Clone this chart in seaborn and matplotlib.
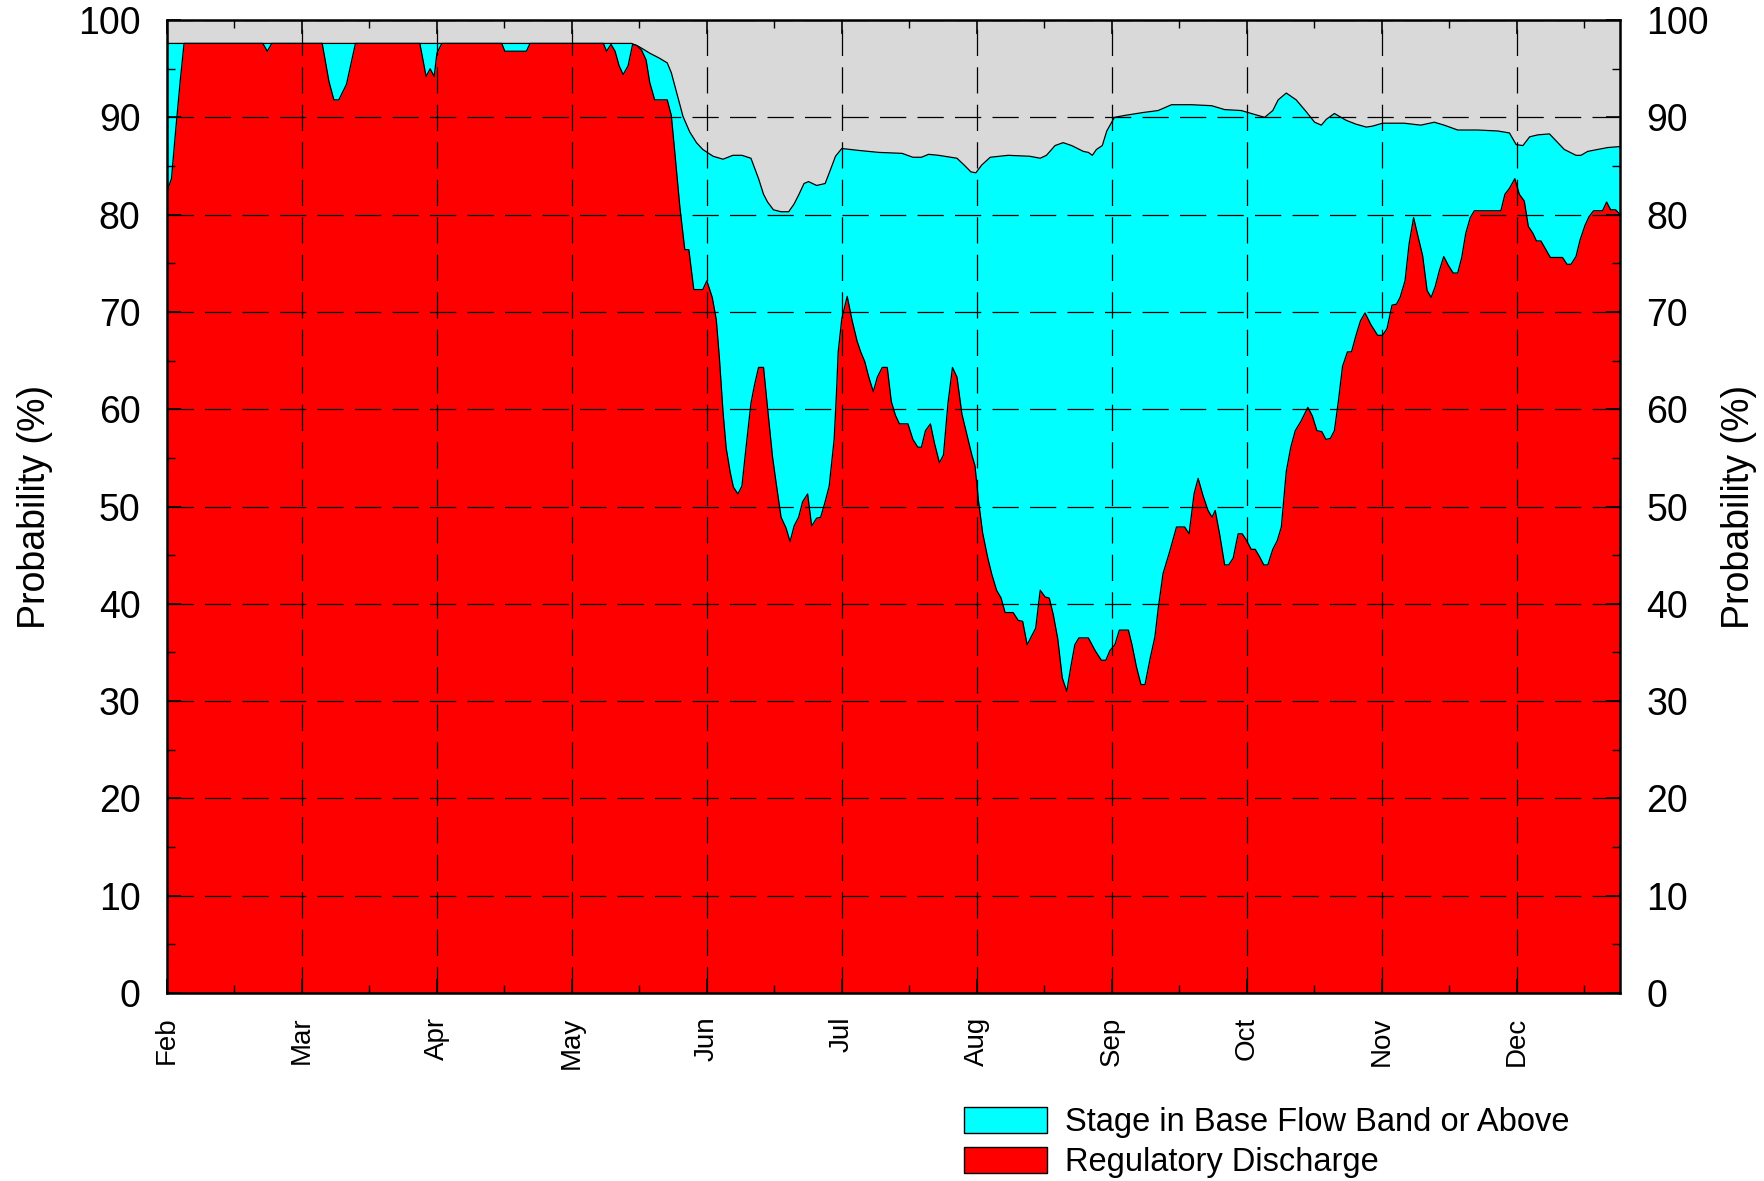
import pandas as pd
import matplotlib
matplotlib.use("Agg")
import matplotlib.pyplot as plt
import matplotlib.patches as mpatches
from matplotlib.ticker import MultipleLocator
import seaborn as sns

# x axis: each month is drawn with the same width (30 "days"), day 0 = start of Feb
months = ["Feb", "Mar", "Apr", "May", "Jun", "Jul", "Aug", "Sep", "Oct", "Nov", "Dec"]
legend_labels = ["Stage in Base Flow Band or Above", "Regulatory Discharge"]

stage_day = [
    0, 103.3, 104.8, 105.9, 107.3, 109.4, 111.2, 112.1, 113.2, 114.7, 116.2, 117.7,
    119.1, 121.4, 123.6, 125.8, 127.8, 129.8, 131.5, 132.6, 133.5, 134.8, 136.5,
    138.2, 139.4, 140.5, 141.6, 142.6, 144.4, 146.3, 147.3, 148.6, 150.0, 153.8,
    158.2, 163.4, 165.8, 167.7, 169.3, 171.5, 175.6, 177.2, 178.7, 179.8, 181.1,
    183.0, 187.0, 191.8, 194.1, 195.5, 197.4, 199.2, 201.1, 203.7, 204.8, 205.7,
    206.6, 207.9, 208.9, 210.6, 212.9, 217.0, 220.3, 223.3, 227.7, 232.2, 235.1,
    238.8, 244.0, 245.8, 247.0, 248.8, 251.0, 253.2, 255.1, 256.6, 257.7, 259.5,
    262.1, 264.3, 266.6, 268.0, 270.2, 275.0, 278.7, 281.7, 283.9, 286.9, 291.3,
    295.8, 298.4, 299.9, 301.4, 302.9, 304.7, 307.3, 310.6, 313.2, 314.3, 315.8,
    318.0, 320.3, 323.0,
]
stage_pct = [
    97.6, 97.6, 97.3, 97.0, 96.6, 96.1, 95.6, 94.6, 92.7, 90.1, 88.5, 87.4,
    86.7, 86.0, 85.7, 86.1, 86.1, 85.8, 83.7, 82.1, 81.3, 80.5, 80.3,
    80.3, 81.1, 82.1, 83.2, 83.4, 83.0, 83.2, 84.4, 86.0, 86.8, 86.6,
    86.4, 86.3, 85.9, 85.9, 86.2, 86.1, 85.8, 85.1, 84.4, 84.3, 85.1,
    85.9, 86.1, 86.0, 85.8, 86.1, 87.1, 87.4, 87.1, 86.5, 86.4, 86.1,
    86.7, 87.1, 88.6, 90.0, 90.2, 90.5, 90.7, 91.3, 91.3, 91.2, 90.8,
    90.7, 90.0, 90.7, 91.8, 92.5, 91.8, 90.6, 89.5, 89.2, 89.8, 90.4,
    89.7, 89.3, 89.0, 89.1, 89.4, 89.4, 89.2, 89.5, 89.2, 88.7, 88.7,
    88.6, 88.4, 87.2, 87.1, 88.0, 88.2, 88.3, 86.7, 86.1, 86.1, 86.5,
    86.7, 86.9, 87.0,
]

discharge_day = [
    0, 1.0, 2.0, 3.0, 3.8, 21.3, 22.3, 23.3, 34.5, 36.0, 37.1, 38.2, 39.9, 41.9,
    56.2, 57.6, 58.5, 59.4, 60.0, 61.1, 74.4, 75.1, 79.9, 80.7, 97.0, 97.7, 98.7,
    99.6, 100.5, 101.4, 102.5, 103.5, 104.4, 105.5, 106.5, 107.3, 108.4, 111.2,
    112.1, 112.9, 114.0, 115.1, 116.0, 117.1, 119.1, 120.0, 121.2, 122.1, 122.8,
    123.6, 124.3, 125.2, 125.9, 126.9, 127.8, 128.7, 129.8, 130.6, 131.5, 132.6,
    133.5, 134.6, 135.5, 136.5, 137.6, 138.5, 139.4, 140.4, 141.3, 142.4, 143.3,
    144.4, 145.3, 146.3, 147.2, 148.3, 148.8, 149.2, 150.0, 151.2, 152.3, 153.4,
    154.2, 155.1, 156.0, 157.0, 157.9, 159.0, 160.1, 161.0, 161.9, 162.8, 164.7,
    165.8, 166.9, 167.7, 168.6, 169.7, 170.6, 171.7, 172.6, 173.6, 174.6, 175.6,
    176.7, 177.8, 178.9, 179.6, 180.4, 181.3, 182.4, 183.3, 184.4, 185.4, 186.3,
    188.1, 189.2, 190.2, 191.2, 193.1, 194.1, 195.2, 196.1, 197.0, 198.0, 199.0,
    200.0, 200.9, 201.8, 202.7, 204.8, 206.3, 207.7, 208.7, 209.6, 210.7, 211.7,
    213.7, 214.5, 215.5, 216.5, 217.4, 218.5, 219.6, 220.3, 221.4, 222.9, 224.4,
    226.2, 227.2, 228.3, 229.2, 230.3, 231.4, 232.3, 233.0, 234.0, 235.1, 236.0,
    237.0, 238.1, 239.0, 240.0, 241.0, 241.9, 242.9, 243.8, 244.7, 245.8, 246.8,
    247.7, 248.8, 249.8, 250.8, 252.1, 253.6, 254.6, 255.6, 256.7, 257.6, 258.6,
    259.5, 260.4, 261.3, 262.4, 263.3, 264.3, 265.3, 266.3, 267.6, 269.1, 270.2,
    271.2, 272.3, 273.3, 274.1, 275.2, 276.1, 277.1, 278.0, 279.1, 280.1, 281.0,
    281.9, 282.8, 283.8, 284.8, 285.9, 286.9, 287.8, 288.7, 289.7, 290.6, 296.5,
    297.4, 298.4, 299.6, 300.6, 301.7, 302.6, 303.6, 304.4, 305.4, 306.5, 307.5,
    310.2, 311.2, 312.1, 313.2, 314.1, 315.2, 316.1, 317.1, 319.1, 320.0, 320.9,
    322.0, 323.0,
]
discharge_pct = [
    82.4, 83.7, 89.0, 94.0, 97.6, 97.6, 96.8, 97.6, 97.6, 93.7, 91.8, 91.8, 93.4, 97.6,
    97.6, 94.2, 95.0, 94.2, 96.6, 97.6, 97.6, 96.8, 96.8, 97.6, 97.6, 96.8, 97.5,
    96.8, 95.3, 94.4, 95.3, 97.5, 97.4, 96.9, 95.9, 93.6, 91.8, 91.8,
    90.2, 86.3, 80.8, 76.4, 76.4, 72.3, 72.3, 73.2, 71.5, 69.2, 65.2,
    59.7, 56.0, 53.5, 52.0, 51.3, 52.1, 56.0, 60.6, 62.5, 64.3, 64.3,
    60.1, 55.1, 52.1, 48.9, 47.8, 46.4, 48.0, 48.9, 50.5, 51.3, 48.0,
    48.8, 48.9, 50.5, 52.1, 56.9, 61.5, 65.9, 69.3, 71.6, 69.1, 67.0,
    65.9, 64.9, 63.3, 61.8, 63.3, 64.3, 64.3, 60.8, 59.4, 58.5, 58.5,
    56.9, 56.1, 56.1, 57.8, 58.5, 56.5, 54.5, 55.3, 60.6, 64.3, 63.3,
    59.5, 57.4, 55.3, 54.2, 50.5, 47.3, 44.8, 43.1, 41.4, 40.6, 39.1,
    39.1, 38.3, 38.2, 35.8, 37.5, 41.4, 40.7, 40.6, 38.9, 36.4, 32.4,
    31.0, 33.5, 35.8, 36.5, 36.5, 35.2, 34.2, 34.2, 35.2, 35.8, 37.3,
    37.3, 35.8, 33.5, 31.7, 31.7, 34.3, 36.6, 39.4, 43.1, 45.4, 47.9,
    47.9, 47.2, 51.3, 52.9, 51.1, 49.6, 48.9, 49.6, 47.1, 44.0, 44.0,
    44.7, 47.2, 47.2, 46.5, 45.6, 45.6, 44.8, 44.0, 44.0, 45.6, 46.5,
    47.9, 53.6, 56.1, 57.8, 58.8, 60.2, 59.3, 57.8, 57.7, 56.9, 57.0,
    57.8, 60.9, 64.4, 65.9, 65.9, 67.6, 69.1, 69.9, 68.7, 67.6, 67.6,
    68.3, 70.7, 70.8, 71.5, 73.2, 77.0, 79.7, 77.9, 75.8, 72.2, 71.5,
    72.6, 74.2, 75.7, 74.8, 74.0, 74.0, 75.6, 78.1, 79.7, 80.4, 80.4,
    82.1, 82.7, 83.7, 82.1, 81.4, 78.8, 78.1, 77.3, 77.3, 76.4, 75.6,
    75.6, 74.9, 74.9, 75.7, 77.4, 78.9, 79.8, 80.4, 80.4, 81.3, 80.5,
    80.5, 80.0,
]

stage = pd.DataFrame({"day": stage_day, "pct": stage_pct})
discharge = pd.DataFrame({"day": discharge_day, "pct": discharge_pct})

sns.set_theme(style="ticks")
plt.rcParams["font.family"] = ["Liberation Sans", "DejaVu Sans"]
plt.rcParams["text.color"] = "black"

fig = plt.figure(figsize=(17.65, 11.81), dpi=100)
ax = fig.add_axes([0.0946, 0.1592, 0.8233, 0.8238])
ax.set_facecolor("#d9d9d9")

# stage band first, discharge drawn over it
ax.fill_between(stage["day"], 0, stage["pct"], color="#00ffff", lw=0, zorder=1)
sns.lineplot(data=stage, x="day", y="pct", color="black", lw=0.9,
             estimator=None, sort=False, legend=False, ax=ax, zorder=1.2)
ax.fill_between(discharge["day"], 0, discharge["pct"], color="#ff0000", lw=0, zorder=1.4)
sns.lineplot(data=discharge, x="day", y="pct", color="black", lw=0.9,
             estimator=None, sort=False, legend=False, ax=ax, zorder=1.6)

ax.set_xlim(0, 323)
ax.set_ylim(0, 100)
ax.set_xticks(range(0, 301, 30))
ax.set_xticklabels(months, rotation=90)
ax.xaxis.set_minor_locator(MultipleLocator(15))
ax.yaxis.set_major_locator(MultipleLocator(10))
ax.yaxis.set_minor_locator(MultipleLocator(5))

ax.set_axisbelow(False)
ax.grid(True, which="major", color="black", linestyle=(0, (21, 9)), linewidth=0.9)

ax.tick_params(which="both", direction="in", top=True, right=True,
               labelright=True, color="black", labelcolor="black")
ax.tick_params(which="major", length=10, width=1.2)
ax.tick_params(which="minor", length=6, width=1.0)
ax.tick_params(axis="y", labelsize=27, pad=19)
ax.tick_params(axis="x", labelsize=20, pad=17)

for sp in ax.spines.values():
    sp.set_color("black")
    sp.set_linewidth(1.8)

ax.set_xlabel("")
ax.set_ylabel("Probability (%)", fontsize=27, color="black")
ax.yaxis.label.set_va("center")
ax.yaxis.set_label_coords(-0.091, 0.5)
ax.text(1.082, 0.5, "Probability (%)", transform=ax.transAxes, rotation=90,
        ha="center", va="center", fontsize=27, color="black")

handles = [
    mpatches.Patch(facecolor="#00ffff", edgecolor="black", lw=1),
    mpatches.Patch(facecolor="#ff0000", edgecolor="black", lw=1),
]
fig.legend(handles, legend_labels, loc="upper left", bbox_to_anchor=(0.546, 0.063),
           frameon=False, fontsize=23.5, handlelength=2.55, handleheight=0.87,
           handletextpad=0.56, labelspacing=0.27, borderpad=0, borderaxespad=0)

fig.savefig("out.png", dpi=100)
